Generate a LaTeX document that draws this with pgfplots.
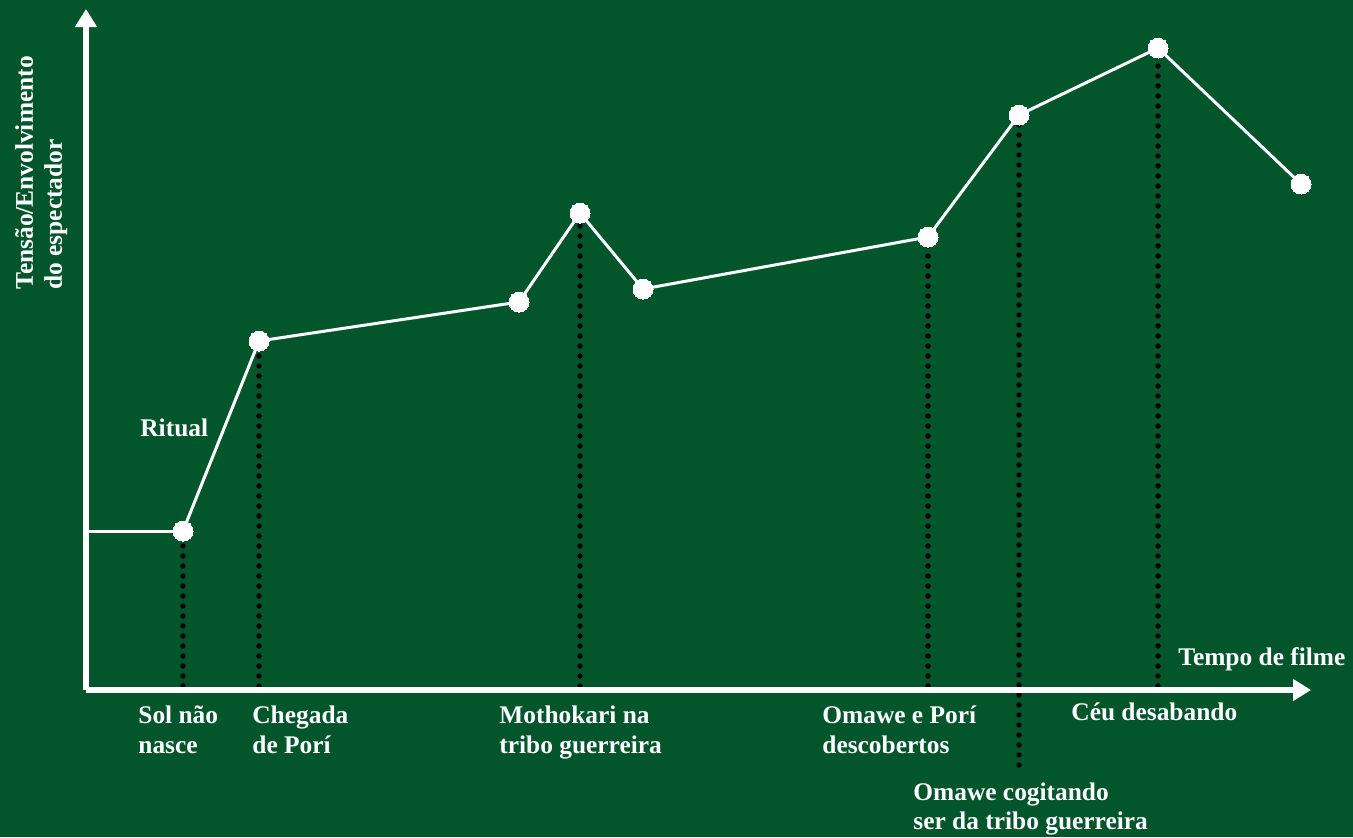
\documentclass[border=0pt]{standalone}
\usepackage{pgfplots}
\pgfplotsset{compat=1.18}
\usepackage{fontspec}
\setmainfont{Liberation Serif}
\usetikzlibrary{arrows.meta,backgrounds}
\definecolor{bg}{RGB}{3,85,44}
\tikzset{
  lbl/.style={font=\fontsize{12.7}{15}\selectfont\bfseries, text=white, inner sep=0pt, anchor=base west},
  dots/.style={black, line width=2.7pt, line cap=round, dash pattern=on 0pt off 5pt},
}
\begin{document}
\begin{tikzpicture}[show background rectangle, background rectangle/.style={fill=bg, draw=none}, inner frame sep=0pt]
\begin{axis}[x=0.5pt, y=0.5pt,
  xmin=0, xmax=1225, ymin=0, ymax=681,
  axis lines=left,
  axis line style={white, line width=3pt, -{Triangle[width=10.5pt,length=9pt]}},
  xtick=\empty, ytick=\empty,
  clip=false, axis on top,
]
\path (axis cs:-86,-147) rectangle (axis cs:1267,690);
% dotted guides
\addplot[dots] coordinates {(97,4) (97,159)};
\addplot[dots] coordinates {(173,4) (173,349)};
\addplot[dots] coordinates {(494,4) (494,477)};
\addplot[dots] coordinates {(842,4) (842,453)};
\addplot[dots] coordinates {(933,-75) (933,575)};
\addplot[dots] coordinates {(1072,4) (1072,642)};
% tension line
\addplot[white, line width=1.5pt] coordinates {(0,159) (97,159)};
\addplot[white, line width=1.5pt, mark=*, mark size=5pt, mark options={fill=white, draw=white, line width=0pt}]
  coordinates {(97,159) (173,349) (433,388) (494,477) (557,401) (842,453) (933,575) (1072,642) (1215,506)};
% labels
\node[lbl] at (axis cs:54,254) {Ritual};
\node[lbl] at (axis cs:52,-33) {Sol não};
\node[lbl] at (axis cs:52,-63) {nasce};
\node[lbl] at (axis cs:166,-33) {Chegada};
\node[lbl] at (axis cs:166,-63) {de Porí};
\node[lbl] at (axis cs:413,-33) {Mothokari na};
\node[lbl] at (axis cs:413,-63) {tribo guerreira};
\node[lbl] at (axis cs:736,-33) {Omawe e Porí};
\node[lbl] at (axis cs:736,-63) {descobertos};
\node[lbl] at (axis cs:985,-30) {Céu desabando};
\node[lbl] at (axis cs:827,-110) {Omawe cogitando};
\node[lbl] at (axis cs:827,-139) {ser da tribo guerreira};
\node[lbl] at (axis cs:1092,25) {Tempo de filme};
\node[lbl, rotate=90] at (axis cs:-53,400) {Tensão/Envolvimento};
\node[lbl, rotate=90] at (axis cs:-24,400) {do espectador};
\end{axis}
\end{tikzpicture}
\end{document}
